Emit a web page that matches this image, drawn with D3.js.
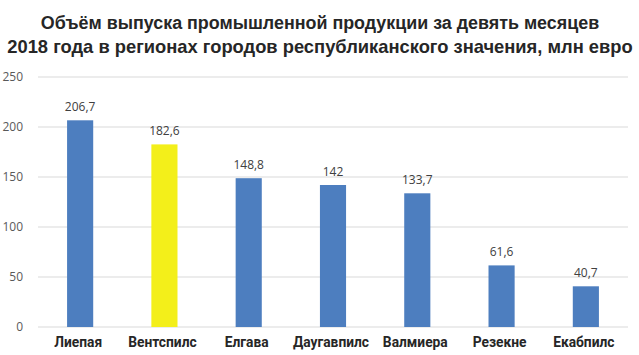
<!DOCTYPE html>
<html><head><meta charset="utf-8">
<script src="https://cdn.jsdelivr.net/npm/d3@7"></script>
<style>body{margin:0;background:#fff}</style>
</head><body>
<svg id="c" width="639" height="355"></svg>
<script>
const categories = ["Лиепая","Вентспилс","Елгава","Даугавпилс","Валмиера","Резекне","Екабпилс"];
const values = [206.7,182.6,148.8,142,133.7,61.6,40.7];
const valueLabels = ["206,7","182,6","148,8","142","133,7","61,6","40,7"];
const highlight = ["Вентспилс"];
const yTicks = [0,50,100,150,200,250];
const titleLines = ["Объём выпуска промышленной продукции за девять месяцев","2018 года в регионах городов республиканского значения, млн евро"];

const svg = d3.select("#c");
const x = d3.scaleBand().domain(categories).range([38,628]).padding(0);
const y = d3.scaleLinear().domain([0,250]).range([327,77]);

// gridlines
svg.append("g").selectAll("line").data(yTicks).join("line")
  .attr("x1",38).attr("x2",628)
  .attr("y1",d=>y(d)).attr("y2",d=>y(d))
  .attr("stroke","#d9d9d9").attr("stroke-width",1);

// y axis labels
const yAxis = d3.axisLeft(y).tickValues(yTicks).tickSize(0).tickPadding(0);
const ya = svg.append("g").attr("transform","translate(23,0)").call(yAxis);
ya.select(".domain").remove();
ya.selectAll("text").attr("font-family","Open Sans, sans-serif").attr("font-size",12).attr("fill","#595959");

const bw = x.bandwidth()*0.31;
svg.append("g").selectAll("rect").data(categories).join("rect")
  .attr("x",(d)=>x(d)+x.bandwidth()/2-bw/2)
  .attr("width",bw)
  .attr("y",(d,i)=>y(values[i]))
  .attr("height",(d,i)=>y(0)-y(values[i]))
  .attr("fill",d=>highlight.includes(d)?"#f3ef1a":"#4d7ebf");

svg.append("g").selectAll("text").data(categories).join("text")
  .attr("x",d=>x(d)+x.bandwidth()/2)
  .attr("y",(d,i)=>y(values[i])-9)
  .attr("text-anchor","middle")
  .attr("font-family","Open Sans, sans-serif").attr("font-size",12).attr("fill","#404040")
  .text((d,i)=>valueLabels[i]);

// x axis labels
const xAxis = d3.axisBottom(x).tickSize(0).tickPadding(0);
const xa = svg.append("g").attr("transform","translate(-2,347)").call(xAxis);
xa.select(".domain").remove();
xa.selectAll("text").attr("dy",0).attr("font-family","Liberation Sans Narrow, Roboto, sans-serif")
  .attr("font-weight","bold").attr("font-size",13.8).attr("fill","#262626");

const tl = svg.append("g").selectAll("text").data(titleLines).join("text")
  .attr("x",320).attr("y",(d,i)=>29+i*23.5)
  .attr("text-anchor","middle")
  .attr("font-family","Liberation Sans Narrow, sans-serif").attr("font-weight","bold")
  .attr("font-size",20).attr("fill","#262626")
  .text(d=>d);
const targets=[559,626];
tl.each(function(d,i){const w=this.getComputedTextLength(); d3.select(this).attr("font-size",20*targets[i]/w);});
</script>
</body></html>
